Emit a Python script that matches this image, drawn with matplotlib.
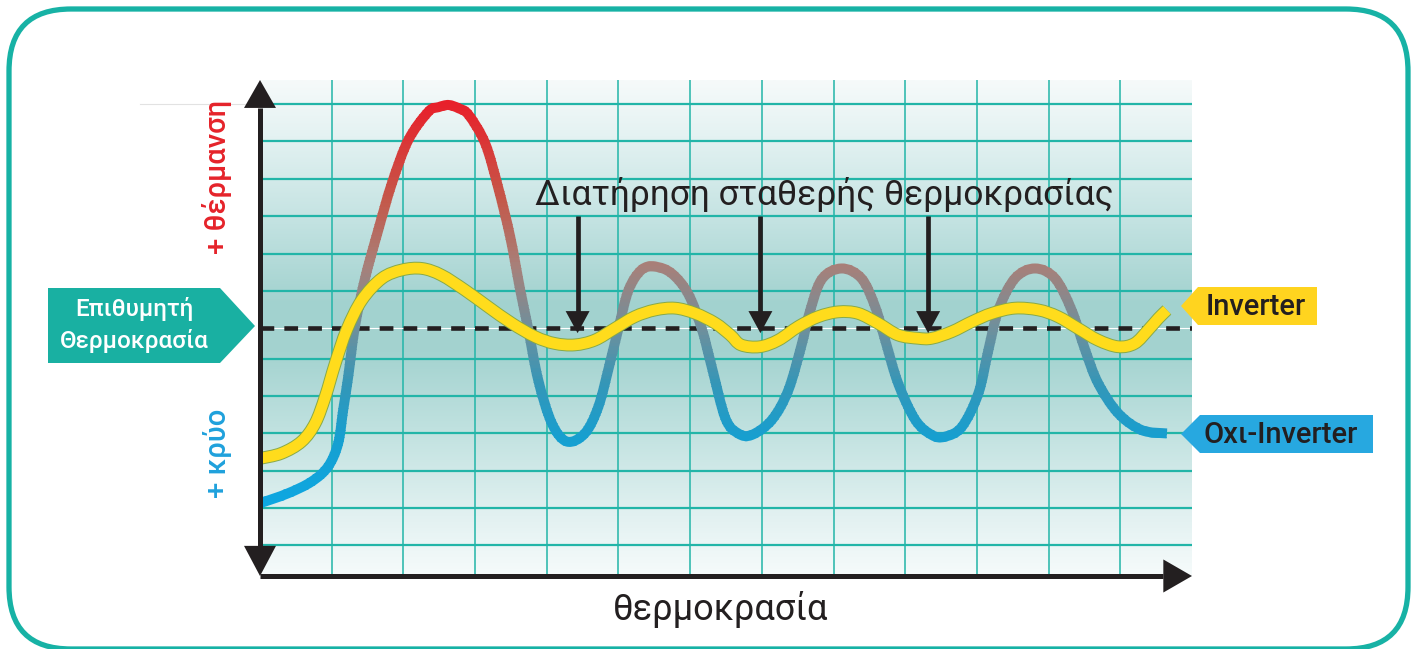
import numpy as np
import matplotlib.pyplot as plt
from matplotlib.colors import LinearSegmentedColormap, Normalize
from matplotlib.patches import Polygon, FancyBboxPatch, PathPatch, Rectangle
from matplotlib.path import Path

# time in grid columns, temperature in grid rows relative to the set point
oxi_t = [0.00, 0.39, 0.72, 0.95, 1.09, 1.16, 1.23, 1.32, 1.46, 1.65, 1.84, 2.07,
         2.35, 2.49, 2.63, 2.77, 2.91, 3.14, 3.32, 3.49, 3.63, 3.74, 3.88, 4.07,
         4.28, 4.53, 4.72, 4.88, 5.00, 5.14, 5.32, 5.51, 5.74, 5.97, 6.16, 6.30,
         6.49, 6.67, 6.86, 7.14, 7.37, 7.56, 7.65, 7.83, 8.11, 8.39, 8.58, 8.72,
         8.90, 9.14, 9.37, 9.55, 9.79, 10.02, 10.16, 10.30, 10.53, 10.81, 11.09,
         11.32, 11.51, 11.69, 11.97, 12.30, 12.65]
oxi_temp = [-4.77, -4.50, -4.18, -3.77, -3.14, -2.23, -1.33, -0.01, 1.31, 2.67,
            3.94, 5.12, 5.89, 6.01, 6.07, 5.98, 5.80, 5.03, 3.84, 2.48, 1.03,
            -0.01, -1.41, -2.59, -3.09, -2.87, -2.14, -0.96, -0.01, 1.03, 1.58,
            1.67, 1.49, 0.94, -0.01, -1.05, -2.45, -2.87, -2.91, -2.50, -1.69,
            -0.42, 0.31, 1.31, 1.62, 1.35, 0.58, -0.33, -1.50, -2.50, -2.91,
            -2.96, -2.69, -1.78, -0.60, 0.49, 1.35, 1.62, 1.35, 0.49, -0.60,
            -1.50, -2.32, -2.78, -2.87]

inv_t = [0.00, 0.30, 0.58, 0.77, 0.91, 1.05, 1.21, 1.42, 1.70, 1.98, 2.26, 2.53,
         2.86, 3.18, 3.51, 3.84, 4.11, 4.39, 4.67, 4.95, 5.23, 5.51, 5.79, 6.07,
         6.35, 6.56, 6.71, 6.97, 7.23, 7.51, 7.79, 8.07, 8.34, 8.62, 8.90, 9.18,
         9.37, 9.65, 9.93, 10.21, 10.53, 10.86, 11.13, 11.41, 11.69, 11.97,
         12.20, 12.39, 12.53, 12.65]
inv_temp = [-3.55, -3.41, -3.09, -2.59, -1.87, -0.96, -0.05, 0.76, 1.35, 1.58,
            1.62, 1.44, 1.03, 0.58, 0.13, -0.24, -0.42, -0.46, -0.33, -0.01,
            0.31, 0.49, 0.54, 0.40, 0.13, -0.19, -0.46, -0.51, -0.33, 0.04,
            0.31, 0.44, 0.40, 0.13, -0.19, -0.28, -0.28, -0.10, 0.17, 0.40,
            0.54, 0.49, 0.31, -0.01, -0.33, -0.51, -0.42, -0.05, 0.26, 0.49]

setpoint = 0.0
hold_t = [4.43, 6.98, 9.32]   # where the inverter holds the set point

title_text = "Διατήρηση σταθερής θερμοκρασίας"
xlabel_text = "θερμοκρασία"
heat_text = "+ θέρμανση"
cool_text = "+ κρύο"
setpoint_lines = ["Επιθυμητή", "Θερμοκρασία"]
inv_label = "Inverter"
oxi_label = "Oxι-Inverter"

W, H = 1412, 649
DARK = "#231f20"
TEAL = "#19b0a2"
GRID = "#22b5a8"
FONT = ["Roboto", "DejaVu Sans"]


def smooth_path(xs, ys):
    # cubic Bezier through the points (Catmull-Rom tangents)
    p = np.column_stack([xs, ys])
    n = len(p)
    verts, codes = [p[0]], [Path.MOVETO]
    for i in range(n - 1):
        p0, p1 = p[max(i - 1, 0)], p[i]
        p2, p3 = p[i + 1], p[min(i + 2, n - 1)]
        verts += [p1 + (p2 - p0) / 6, p2 - (p3 - p1) / 6, p2]
        codes += [Path.CURVE4] * 3
    return Path(verts, codes)


fig = plt.figure(figsize=(W / 100, H / 100), dpi=100)
fig.patch.set_facecolor("white")

# back layer: rounded frame
back = fig.add_axes([0, 0, 1, 1], zorder=0)
back.set_xlim(0, W)
back.set_ylim(H, 0)
back.axis("off")
back.add_patch(FancyBboxPatch((9, 9), 1399, 640, boxstyle="round,pad=0,rounding_size=62",
                              fc="white", ec="#17b2a5", lw=3.8))
back.plot([140, 258], [104, 104], color="#e2e2e2", lw=0.8)

# chart area
ax = fig.add_axes([260 / W, (H - 576) / H, 932 / W, 496 / H], zorder=1)
ax.set_xlim(0, 13)
ax.set_ylim(-6.75, 6.75)
ax.axis("off")

bg = LinearSegmentedColormap.from_list("bg", [
    (0.0, "#f6fbfb"), (0.12, "#e2f1f1"), (0.3, "#bfe1df"), (0.45, "#a4d3d0"),
    (0.55, "#a2d2cf"), (0.72, "#c4e3e2"), (0.9, "#e6f3f3"), (1.0, "#f6fafa")])
ax.imshow(np.linspace(0, 1, 256).reshape(-1, 1), cmap=bg, origin="lower",
          extent=[0, 13, -6.75, 6.75], aspect="auto", zorder=0)

for gx in range(1, 13):
    ax.plot([gx, gx], [-6.75, 6.75], color=GRID, lw=1.1, zorder=1)
for gy in list(np.linspace(6.1, 1.0, 6)) + list(np.linspace(-0.85, -5.9, 6)):
    ax.plot([0, 13], [gy, gy], color=GRID, lw=1.6, zorder=1)

# set point line
ax.plot([0, 13], [setpoint, setpoint], color="white", lw=0.8, zorder=2)
ax.plot([0, 13], [setpoint, setpoint], color=DARK, lw=3.3,
        linestyle=(0, (3.0, 2.2)), zorder=2)

# non-inverter curve, coloured from cold (blue) to hot (red) in thin bands
temp_cmap = LinearSegmentedColormap.from_list("temp", [
    (0.0, "#0ea7e1"), (0.165, "#169fd0"), (0.303, "#3596b7"), (0.44, "#6f8f9c"),
    (0.596, "#a78079"), (0.761, "#c4584a"), (1.0, "#e8202a")])
norm = Normalize(-4.8, 6.1)
oxi_path = smooth_path(oxi_t, oxi_temp)
edges = np.linspace(-5.6, 6.8, 125)
for lo, hi in zip(edges[:-1], edges[1:]):
    band = PathPatch(oxi_path, fc="none", ec=temp_cmap(norm((lo + hi) / 2)), lw=7.2,
                     capstyle="butt", joinstyle="round", zorder=3)
    ax.add_patch(band)
    band.set_clip_path(Rectangle((-1, lo), 15, hi - lo + 0.02, transform=ax.transData))

# inverter curve
inv_path = smooth_path(inv_t, inv_temp)
ax.add_patch(PathPatch(inv_path, fc="none", ec="#86a94a", lw=9.2,
                       capstyle="butt", joinstyle="round", zorder=4))
ax.add_patch(PathPatch(inv_path, fc="none", ec="#ffdc1c", lw=7.8,
                       capstyle="butt", joinstyle="round", zorder=5))

# axes with arrow heads
kw = dict(clip_on=False, zorder=6)
ax.plot([0, 0], [-5.93, 5.99], color=DARK, lw=3.6, solid_capstyle="butt", **kw)
ax.plot([0, 12.6], [-6.75, -6.75], color=DARK, lw=3.6, solid_capstyle="butt", **kw)
ax.add_patch(Polygon([(0, 6.75), (-0.223, 5.99), (0.223, 5.99)], fc=DARK, ec="none", **kw))
ax.add_patch(Polygon([(0, -6.75), (-0.223, -5.93), (0.223, -5.93)], fc=DARK, ec="none", **kw))
ax.add_patch(Polygon([(13.0, -6.75), (12.6, -6.3), (12.6, -7.2)], fc=DARK, ec="none", **kw))

# annotation arrows
ax.text(7.87, 3.62, title_text, ha="center", va="center", fontsize=25.5,
        color=DARK, family=FONT, zorder=7)
for t in hold_t:
    ax.plot([t, t], [3.05, 0.44], color=DARK, lw=3.4, solid_capstyle="butt", zorder=7)
    ax.add_patch(Polygon([(t, -0.14), (t - 0.167, 0.46), (t + 0.167, 0.46)],
                         fc=DARK, ec="none", zorder=7))

# front layer: badges and side labels
front = fig.add_axes([0, 0, 1, 1], zorder=2)
front.set_xlim(0, W)
front.set_ylim(H, 0)
front.axis("off")
front.patch.set_alpha(0)

front.add_patch(Polygon([(48, 288), (220, 288), (255, 326), (220, 363), (48, 363)],
                        fc=TEAL, ec="none"))
front.text(134, 309, setpoint_lines[0], ha="center", va="center", color="white",
           fontsize=17.5, fontweight="medium", family=FONT)
front.text(134, 341, setpoint_lines[1], ha="center", va="center", color="white",
           fontsize=17.5, fontweight="medium", family=FONT)

front.add_patch(Polygon([(1181, 306), (1198, 287), (1317, 287), (1317, 325), (1198, 325)],
                        fc="#ffd41f", ec="none"))
front.text(1256, 307, inv_label, ha="center", va="center", color=DARK,
           fontsize=21, fontweight="medium", family=FONT)

front.add_patch(Polygon([(1181, 434), (1200, 415), (1373, 415), (1373, 453), (1200, 453)],
                        fc="#27a8e0", ec="none"))
front.text(1281, 435, oxi_label, ha="center", va="center", color=DARK,
           fontsize=21, fontweight="medium", family=FONT)

front.text(217, 177, heat_text, ha="center", va="center", rotation=90,
           color="#e5232a", fontsize=21, fontweight="medium", family=FONT)
front.text(217, 453, cool_text, ha="center", va="center", rotation=90,
           color="#1fa1dc", fontsize=21, fontweight="medium", family=FONT)
front.text(721, 610, xlabel_text, ha="center", va="center", color=DARK,
           fontsize=26, family=FONT)

fig.savefig("out.png", dpi=100)
